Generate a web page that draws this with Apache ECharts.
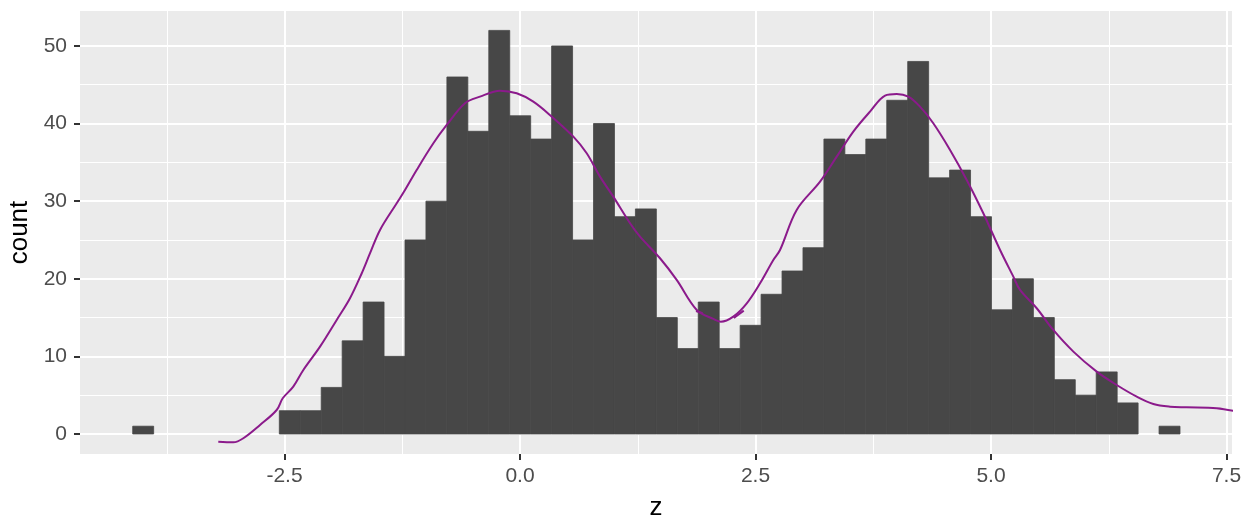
<!DOCTYPE html>
<html><head><meta charset="utf-8">
<script src="https://cdn.jsdelivr.net/npm/echarts@6/dist/echarts.min.js"></script>
<style>html,body{margin:0;padding:0;background:#fff}#c{width:1244px;height:516px}</style>
</head><body><div id="c"></div>
<script>
// histogram: 50 bins
const binStart = -4.1115;
const binWidth = 0.22235;
const counts = [1,0,0,0,0,0,0,3,3,6,12,17,10,25,30,46,39,52,41,38,50,25,40,28,29,15,11,17,11,14,18,21,24,38,36,38,43,48,33,34,28,16,20,15,7,5,8,4,0,1];
// density curve (scaled to counts)
const densityX = [-3.203,-3.044,-2.937,-2.760,-2.583,-2.519,-2.407,-2.300,-2.123,-1.946,-1.805,-1.680,-1.592,-1.486,-1.309,-1.221,-1.097,-0.920,-0.778,-0.584,-0.425,-0.212,-0.035,0.141,0.337,0.566,0.708,0.849,0.990,1.168,1.274,1.486,1.663,1.876,2.052,2.131,2.264,2.407,2.548,2.689,2.760,2.937,3.185,3.362,3.538,3.715,3.875,3.999,4.122,4.246,4.387,4.565,4.742,4.918,5.096,5.237,5.308,5.485,5.661,5.874,6.122,6.334,6.547,6.723,6.900,7.077,7.396,7.643];
const densityY = [-0.99,-1.07,-0.55,1.16,3.09,4.60,6.10,8.25,11.25,14.69,17.49,20.71,23.29,26.29,29.73,31.44,34.02,37.46,39.82,42.62,43.47,44.24,43.90,42.82,40.89,38.31,36.17,33.16,30.58,27.15,25.43,22.64,19.85,15.98,14.82,14.47,15.12,16.84,19.42,22.42,23.71,28.87,32.51,35.73,38.96,41.53,43.60,43.81,43.47,42.18,40.04,36.60,32.73,28.44,23.71,20.27,18.56,16.20,13.40,10.61,8.03,6.31,4.81,3.87,3.52,3.44,3.31,2.80];
// small overlapping segments near the dip
const hookLeft = [[1.868,15.85],[1.939,15.55]];
const hookRight = [[2.27,14.95],[2.375,15.9]];
// axis ticks
const xTicks = [-2.5, 0, 2.5, 5, 7.5];
const xMinor = [-3.75, -1.25, 1.25, 3.75, 6.25];
const yTicks = [0, 10, 20, 30, 40, 50];
const yMinor = [5, 15, 25, 35, 45];
const xRange = [-4.671, 7.558];
const yRange = [-2.58, 54.5];

const histData = counts.map((c, k) => [binStart + k * binWidth, binStart + (k + 1) * binWidth, c]);
const densityData = densityX.map((x, i) => [x, densityY[i]]);

const FONT = 'Liberation Sans, Arial, Helvetica, sans-serif';
const PURPLE = '#8B1A8B';
const chart = echarts.init(document.getElementById('c'), null, {renderer: 'canvas'});
chart.setOption({
  animation: false,
  grid: {left: 80, right: 12, top: 11, bottom: 62, show: true, backgroundColor: '#EBEBEB', borderWidth: 0,
         containLabel: false, outerBoundsMode: 'none'},
  xAxis: [{
    type: 'value', min: xRange[0], max: xRange[1],
    axisLine: {show: false, onZero: false},
    axisTick: {show: true, customValues: xTicks, length: 6, lineStyle: {color: '#333333', width: 2}},
    axisLabel: {customValues: xTicks, formatter: v => v.toFixed(1), color: '#4D4D4D', fontSize: 21, fontFamily: FONT, margin: 12},
    splitLine: {show: true, lineStyle: {color: '#FFFFFF', width: 2}},
    name: 'z', nameLocation: 'middle', nameGap: 41,
    nameTextStyle: {color: '#000000', fontSize: 26, fontFamily: FONT}
  }, {
    type: 'value', min: xRange[0], max: xRange[1], position: 'bottom',
    axisLine: {show: false, onZero: false},
    axisTick: {show: false, customValues: xMinor},
    axisLabel: {show: false, customValues: xMinor},
    splitLine: {show: true, lineStyle: {color: '#FFFFFF', width: 1}}
  }],
  yAxis: [{
    type: 'value', min: yRange[0], max: yRange[1],
    axisLine: {show: false, onZero: false},
    axisTick: {show: true, customValues: yTicks, length: 6, lineStyle: {color: '#333333', width: 2}},
    axisLabel: {customValues: yTicks, color: '#4D4D4D', fontSize: 21, fontFamily: FONT, margin: 13},
    splitLine: {show: true, lineStyle: {color: '#FFFFFF', width: 2}},
    name: 'count', nameLocation: 'middle', nameGap: 40, nameRotate: 90,
    nameTextStyle: {color: '#000000', fontSize: 26, fontFamily: FONT}
  }, {
    type: 'value', min: yRange[0], max: yRange[1], position: 'left',
    axisLine: {show: false, onZero: false},
    axisTick: {show: false, customValues: yMinor},
    axisLabel: {show: false, customValues: yMinor},
    splitLine: {show: true, lineStyle: {color: '#FFFFFF', width: 1}}
  }],
  series: [{
    type: 'custom', name: 'count', xAxisIndex: 0, yAxisIndex: 0,
    data: histData, encode: {x: [0, 1], y: 2},
    renderItem: function (params, api) {
      const x0 = api.value(0), x1 = api.value(1), c = api.value(2);
      if (!c) return null;
      const p0 = api.coord([x0, c]);
      const p1 = api.coord([x1, 0]);
      return {type: 'rect', shape: {x: p0[0], y: p0[1], width: p1[0] - p0[0], height: p1[1] - p0[1]},
              style: {fill: '#474747', stroke: '#474747', lineWidth: 0.8}};
    }
  }, {
    type: 'line', name: 'density', xAxisIndex: 0, yAxisIndex: 0,
    data: densityData, showSymbol: false, symbol: 'none', clip: false, smooth: 0.35,
    lineStyle: {color: PURPLE, width: 2}
  }, {
    type: 'line', name: 'hookL', data: hookLeft, showSymbol: false, symbol: 'none',
    lineStyle: {color: PURPLE, width: 2}
  }, {
    type: 'line', name: 'hookR', data: hookRight, showSymbol: false, symbol: 'none',
    lineStyle: {color: PURPLE, width: 2}
  }]
});
</script>
</body></html>
